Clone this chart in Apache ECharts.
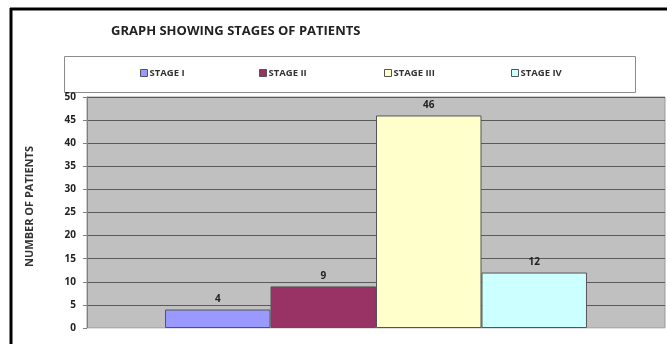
<!DOCTYPE html>
<html><head><meta charset="utf-8">
<script src="https://cdn.jsdelivr.net/npm/echarts@6/dist/echarts.min.js"></script>
<style>html,body{margin:0;padding:0;background:#fff}#c{width:667px;height:344px}</style>
</head><body><div id="c"></div>
<script>
const titleText = "GRAPH SHOWING STAGES OF PATIENTS";
const yAxisName = "NUMBER OF PATIENTS";
const categories = [""];
const seriesNames = ["STAGE I", "STAGE II", "STAGE III", "STAGE IV"];
const seriesValues = [[4], [9], [46], [12]];
const seriesColors = ["#9999ff", "#993366", "#ffffcc", "#ccffff"];
const yMin = 0, yMax = 50, yInterval = 5;
const legendLefts = [140, 259, 384, 511];

const chart = echarts.init(document.getElementById('c'), null, {renderer: 'canvas'});
const font = 'Open Sans';
chart.setOption({
  animation: false,
  backgroundColor: '#fff',
  title: {
    text: titleText, left: 106, top: 20,
    textStyle: {fontFamily: font, fontSize: 13, fontWeight: 'bold', color: '#222'}
  },
  graphic: [
    {type: 'rect', shape: {x: 64.5, y: 56.5, width: 571, height: 36}, style: {fill: '#fff', stroke: '#8c8c8c', lineWidth: 1}, z: -1},
    {type: 'line', shape: {x1: 10, y1: 9, x2: 667, y2: 9}, style: {stroke: '#000', lineWidth: 3}},
    {type: 'line', shape: {x1: 11, y1: 8, x2: 11, y2: 344}, style: {stroke: '#000', lineWidth: 3}}
  ],
  legend: seriesNames.map((n, i) => ({
    data: [n], left: legendLefts[i], top: 68, itemWidth: 7, itemHeight: 7, itemGap: 2,
    icon: 'rect', padding: 0,
    textStyle: {fontFamily: font, fontSize: 9.5, fontWeight: 'bold', color: '#333', padding: [0, 0, 0, -3]},
    itemStyle: {borderColor: '#555', borderWidth: 1}
  })),
  grid: {left: 87, top: 97, right: 2, bottom: 16, show: true, backgroundColor: '#c0c0c0', borderColor: '#9a9a9a', borderWidth: 1},
  xAxis: {
    type: 'category', data: categories,
    axisLine: {show: true, lineStyle: {color: '#e0e0e0', width: 1}},
    axisTick: {show: false}, axisLabel: {show: false}
  },
  yAxis: {
    type: 'value', min: yMin, max: yMax, interval: yInterval,
    name: yAxisName, nameLocation: 'middle', nameGap: 52, nameRotate: 90,
    nameTextStyle: {fontFamily: font, fontSize: 11, fontWeight: 'bold', color: '#333', padding: [0, 0, 0, 12]},
    axisLine: {show: true, lineStyle: {color: '#808080'}},
    axisTick: {show: true, length: 4, lineStyle: {color: '#808080'}},
    axisLabel: {margin: 11, fontFamily: font, fontSize: 10, fontWeight: 'bold', color: '#222'},
    splitLine: {show: true, lineStyle: {color: '#5a5a5a', width: 1}}
  },
  series: seriesNames.map((n, i) => ({
    name: n, type: 'bar', data: seriesValues[i],
    barGap: '0%', barCategoryGap: '27%',
    itemStyle: {color: seriesColors[i], borderColor: '#555', borderWidth: 1},
    label: {show: true, position: 'top', distance: 5, fontFamily: font, fontSize: 10, fontWeight: 'bold', color: '#222'}
  }))
});
</script></body></html>
